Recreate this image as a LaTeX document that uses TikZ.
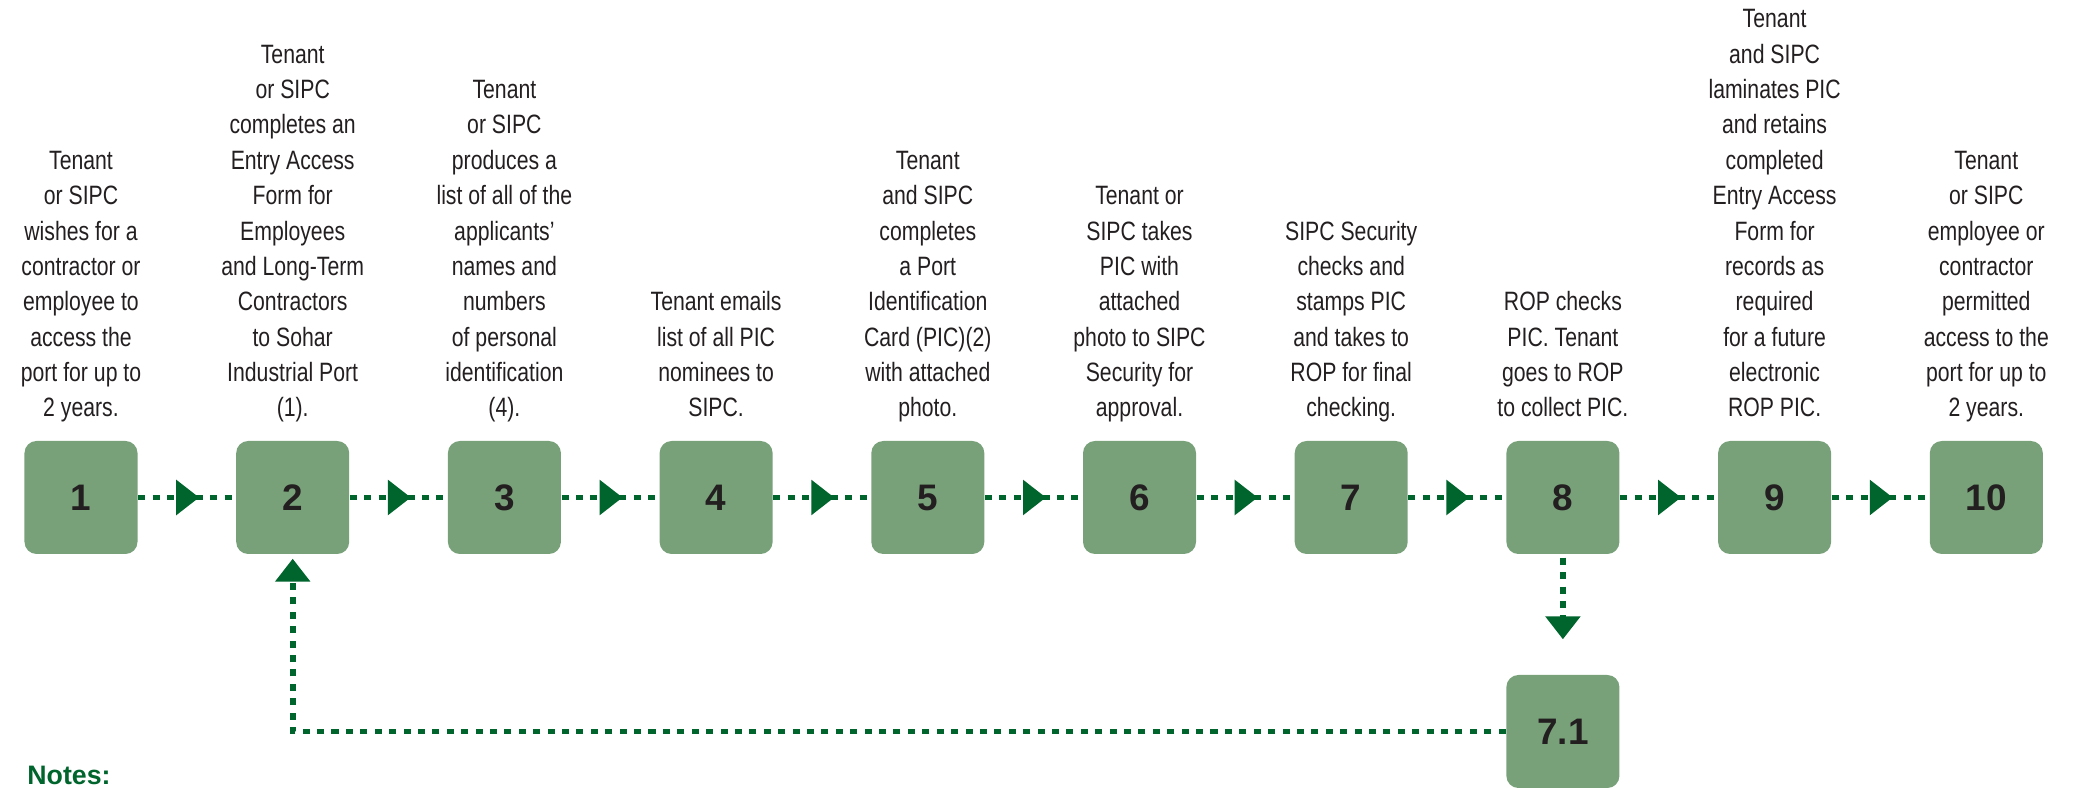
\documentclass[tikz,border=0pt]{standalone}
\usepackage{fontspec}
\setmainfont{Liberation Sans}[FakeStretch=0.8]
\newfontfamily\numfont{Liberation Sans}
\usepackage{xcolor}
\usetikzlibrary{arrows.meta,decorations.markings}
\definecolor{boxgreen}{RGB}{120,161,122}
\definecolor{linegreen}{RGB}{0,100,45}
\definecolor{txtgray}{RGB}{35,31,32}
\tikzset{
  flowtip/.tip={Triangle[length=0.23cm,width=0.34cm]},
  stepbox/.style={fill=boxgreen,rounded corners=0.12cm,minimum width=1.13cm,minimum height=1.13cm,inner sep=0pt,text=txtgray,font=\numfont\bfseries\fontsize{10.5}{12}\selectfont},
  steptext/.style={anchor=base,align=center,inner sep=0pt,text=txtgray,font=\fontsize{7.55}{10.07}\selectfont},
  flow/.style={linegreen,line width=1.7pt,dash pattern=on 2pt off 2.1pt},
  midarrow/.style={postaction={decorate},decoration={markings,mark=at position 0.627 with {\arrow{flowtip}}}}
}
\begin{document}
\begin{tikzpicture}
    \clip (0,0) rectangle (20.83,7.88);
    % steps
    \node[stepbox] (b1) at (0.81,2.905) {1};
    \node[stepbox] (b2) at (2.927,2.905) {2};
    \node[stepbox] (b3) at (5.044,2.905) {3};
    \node[stepbox] (b4) at (7.161,2.905) {4};
    \node[stepbox] (b5) at (9.278,2.905) {5};
    \node[stepbox] (b6) at (11.395,2.905) {6};
    \node[stepbox] (b7) at (13.512,2.905) {7};
    \node[stepbox] (b8) at (15.629,2.905) {8};
    \node[stepbox] (b9) at (17.746,2.905) {9};
    \node[stepbox] (b10) at (19.863,2.905) {10};
    \node[stepbox] (b71) at (15.629,0.565) {7.1};
    % texts
    \node[steptext] (t1) at (0.81,3.71) {Tenant\\or SIPC\\wishes for a\\contractor or\\employee to\\access the\\port for up to\\2 years.};
    \node[steptext] (t2) at (2.927,3.71) {Tenant\\or SIPC\\completes an\\Entry Access\\Form for\\Employees\\and Long-Term\\Contractors\\to Sohar\\Industrial Port\\(1).};
    \node[steptext] (t3) at (5.044,3.71) {Tenant\\or SIPC\\produces a\\list of all of the\\applicants'\\names and\\numbers\\of personal\\identification\\(4).};
    \node[steptext] (t4) at (7.161,3.71) {Tenant emails\\list of all PIC\\nominees to\\SIPC.};
    \node[steptext] (t5) at (9.278,3.71) {Tenant\\and SIPC\\completes\\a Port\\Identification\\Card (PIC)(2)\\with attached\\photo.};
    \node[steptext] (t6) at (11.395,3.71) {Tenant or\\SIPC takes\\PIC with\\attached\\photo to SIPC\\Security for\\approval.};
    \node[steptext] (t7) at (13.512,3.71) {SIPC Security\\checks and\\stamps PIC\\and takes to\\ROP for final\\checking.};
    \node[steptext] (t8) at (15.629,3.71) {ROP checks\\PIC. Tenant\\goes to ROP\\to collect PIC.};
    \node[steptext] (t9) at (17.746,3.71) {Tenant\\and SIPC\\laminates PIC\\and retains\\completed\\Entry Access\\Form for\\records as\\required\\for a future\\electronic\\ROP PIC.};
    \node[steptext] (t10) at (19.863,3.71) {Tenant\\or SIPC\\employee or\\contractor\\permitted\\access to the\\port for up to\\2 years.};
    % arrows
    \draw[flow,midarrow] (b1) -- (b2);
    \draw[flow,midarrow] (b2) -- (b3);
    \draw[flow,midarrow] (b3) -- (b4);
    \draw[flow,midarrow] (b4) -- (b5);
    \draw[flow,midarrow] (b5) -- (b6);
    \draw[flow,midarrow] (b6) -- (b7);
    \draw[flow,midarrow] (b7) -- (b8);
    \draw[flow,midarrow] (b8) -- (b9);
    \draw[flow,midarrow] (b9) -- (b10);
    \draw[flow,-flowtip,shorten <=0.03cm,shorten >=0.35cm] (b8) -- (b71);
    \draw[flow,-flowtip,shorten >=0.04cm] (b71.west) -| (b2);
    \node[anchor=base west,inner sep=0pt,text=linegreen,font=\numfont\bfseries\fontsize{7.6}{9}\selectfont] (notes) at (0.267,0.03) {Notes:};
\end{tikzpicture}
\end{document}
